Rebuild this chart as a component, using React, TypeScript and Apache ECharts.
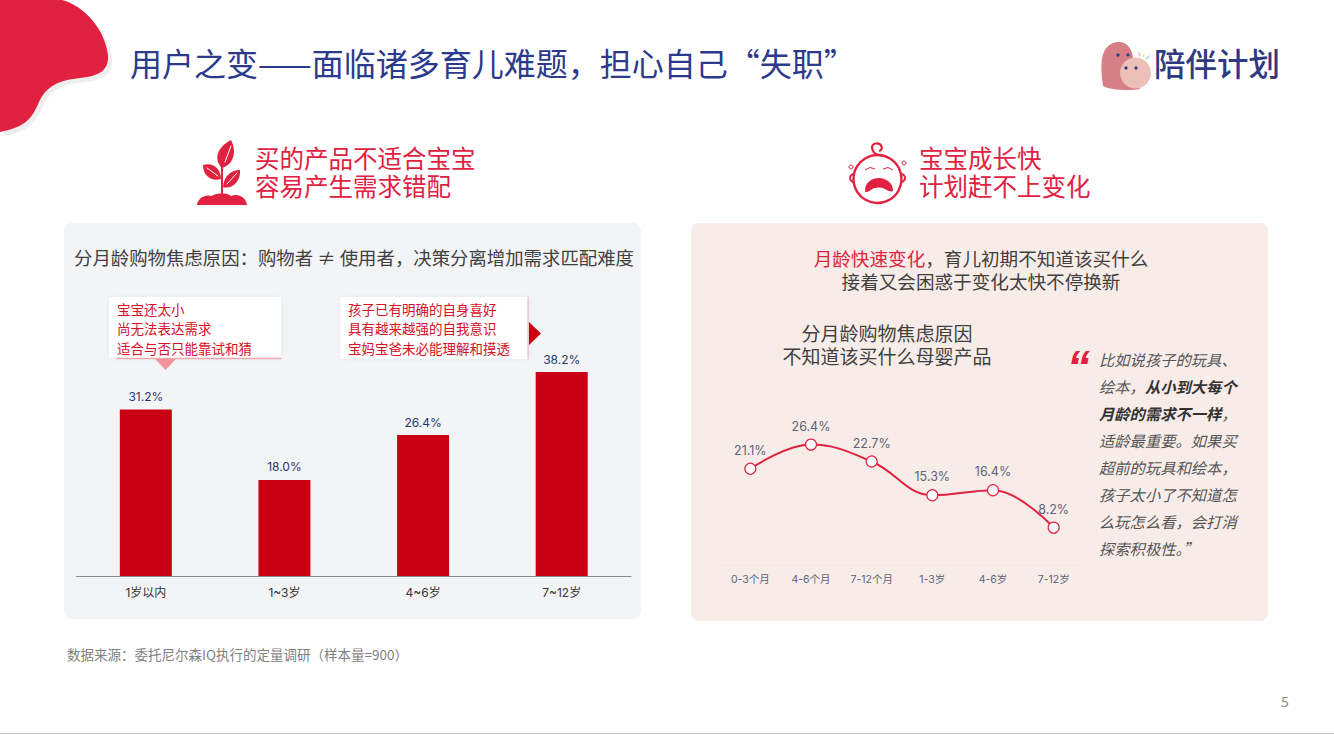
import React, { useEffect, useRef } from "react";
import * as echarts from "echarts";

const barCategories = ["1岁以内", "1~3岁", "4~6岁", "7~12岁"];
const barValues = [31.2, 18.0, 26.4, 38.2];
const lineCategories = ["0-3个月", "4-6个月", "7-12个月", "1-3岁", "4-6岁", "7-12岁"];
const lineValues = [21.1, 26.4, 22.7, 15.3, 16.4, 8.2];

const pageTitle = "用户之变——面临诸多育儿难题，担心自己“失职”";
const brand = "陪伴计划";
const leftHead = ["买的产品不适合宝宝", "容易产生需求错配"];
const rightHead = ["宝宝成长快", "计划赶不上变化"];
const leftPanelTitle = "分月龄购物焦虑原因：购物者 ≠ 使用者，决策分离增加需求匹配难度";
const note1 = ["宝宝还太小", "尚无法表达需求", "适合与否只能靠试和猜"];
const note2 = ["孩子已有明确的自身喜好", "具有越来越强的自我意识", "宝妈宝爸未必能理解和摸透"];
const lineTitle = ["分月龄购物焦虑原因", "不知道该买什么母婴产品"];
const quoteLines = [
  "比如说孩子的玩具、",
  "绘本，{b|从小到大每个}",
  "{b|月龄的需求不一样}，",
  "适龄最重要。如果买",
  "超前的玩具和绘本，",
  "孩子太小了不知道怎",
  "么玩怎么看，会打消",
  "探索积极性。”",
];
const sourceNote = "数据来源：委托尼尔森IQ执行的定量调研（样本量=900）";
const pageNo = "5";

const FONT = '"Noto Sans CJK SC", "Noto Sans", sans-serif';
const NUM_FONT = 'Inter, "Noto Sans CJK SC", sans-serif';
const RED = "#e0213f";
const BAR = "#c90012";

echarts.graphic.registerShape(
  "blob",
  echarts.graphic.extendPath(
    "M0 0 L62 0 C85 6 105 30 108 55 C109 70 100 76 80 78 C60 80 48 85 40 100 C33 114 31 126 0 132 Z",
    {}
  )
);
echarts.graphic.registerShape(
  "plant",
  echarts.graphic.extendPath(
    "M222 168 C214 160 216 148 231 140 C237 152 234 164 222 168 Z M221 179 C212 182 203 176 203 165 C212 162 221 168 221 179 Z M223 187 C224 176 231 170 240 170 C241 180 233 190 223 187 Z M221 165 L223 165 L223 194 L221 194 Z M197 205 C198 198 205 194 212 196 C216 193 226 192 231 196 C239 193 246 198 247 205 Z",
    {}
  )
);
echarts.graphic.registerShape(
  "mouth",
  echarts.graphic.extendPath(
    "M865 191 C865 182 872 178 879 178 C886 178 893 183 893 190 C893 193 888 191 885 189 C880 187 875 187 871 190 C868 192 865 193 865 191 Z",
    {}
  )
);
echarts.graphic.registerShape(
  "heart",
  echarts.graphic.extendPath(
    "M1103 86 C1101 72 1100 58 1105 50 C1111 40 1124 40 1129 47 C1132 51 1133 55 1133 60 L1140 89 C1128 91 1110 90 1103 86 Z",
    {}
  )
);
echarts.graphic.registerShape(
  "curl",
  echarts.graphic.extendPath(
    "M878 155 C871 152 870 144 876 143.5 C882 143 884 150 879 151",
    {}
  )
);

const txt = (x: number, y: number, text: string, fontSize: number, fill: string, extra: any = {}) => ({
  type: "text",
  x,
  y: y - fontSize * 0.1,
  z: 5,
  style: { text, fontSize, fill, fontFamily: FONT, verticalAlign: "middle", align: "left", ...extra },
});

const line = (x1: number, y1: number, x2: number, y2: number, stroke: string, lineWidth = 1) => ({
  type: "line",
  z: 5,
  shape: { x1, y1, x2, y2 },
  style: { stroke, lineWidth, lineCap: "round" },
});

export default function App() {
  const ref = useRef<HTMLDivElement>(null);
  useEffect(() => {
    document.body.style.margin = "0";
    const chart = echarts.init(ref.current!, undefined, { renderer: "svg" });
    const graphics: any[] = [
      { type: "blob", x: 4, y: 4, z: 1, style: { fill: "#eeeeee" } },
      { type: "blob", z: 2, style: { fill: RED } },
      txt(130, 65, pageTitle, 32, "#2b3a8c"),
      // logo
      { type: "heart", z: 2, style: { fill: "#d67f86" } },
      { type: "circle", z: 3, shape: { cx: 1135.5, cy: 73, r: 15.5 }, style: { fill: "#ecc0b8" } },
      { type: "circle", z: 4, shape: { cx: 1118, cy: 55, r: 1.6 }, style: { fill: "#2b3a8c" } },
      { type: "circle", z: 4, shape: { cx: 1128, cy: 55, r: 1.6 }, style: { fill: "#2b3a8c" } },
      { type: "circle", z: 4, shape: { cx: 1126, cy: 68, r: 1.6 }, style: { fill: "#2b3a8c" } },
      { type: "circle", z: 4, shape: { cx: 1136, cy: 68, r: 1.6 }, style: { fill: "#2b3a8c" } },
      line(1139, 53, 1140, 56, "#eeb6c8", 1.5),
      line(1144, 54, 1143, 57, "#f3dfa0", 1.5),
      line(1149, 56, 1146, 59, "#a8d4f0", 1.5),
      txt(1154, 65, brand, 31.5, "#2f3a80", { fontWeight: 500 }),
      // headings and icons
      { type: "plant", z: 2, style: { fill: RED } },
      line(231, 146, 225, 162, "#ffffff", 1),
      line(207, 168, 218, 176, "#ffffff", 1),
      line(237, 173, 227, 184, "#ffffff", 1),
      txt(255, 174, leftHead.join("\n"), 24.5, RED, { lineHeight: 28 }),
      { type: "circle", z: 2, shape: { cx: 877.5, cy: 179, r: 24 }, style: { fill: "none", stroke: RED, lineWidth: 2.4 } },
      { type: "arc", z: 2, shape: { cx: 854, cy: 178, r: 4, startAngle: 1.4, endAngle: 4.9, clockwise: true }, style: { fill: "none", stroke: RED, lineWidth: 2 } },
      { type: "arc", z: 2, shape: { cx: 901, cy: 178, r: 4, startAngle: -1.7, endAngle: 1.7, clockwise: true }, style: { fill: "none", stroke: RED, lineWidth: 2 } },
      { type: "curl", z: 2, style: { fill: "none", stroke: RED, lineWidth: 2.2 } },
      { type: "circle", z: 2, shape: { cx: 851, cy: 167, r: 2 }, style: { fill: "none", stroke: RED, lineWidth: 1 } },
      { type: "circle", z: 2, shape: { cx: 904, cy: 163, r: 2 }, style: { fill: "none", stroke: RED, lineWidth: 1 } },
      { type: "polyline", z: 2, shape: { points: [[865, 170], [870, 167.5], [875, 169]] }, style: { fill: "none", stroke: RED, lineWidth: 1 } },
      { type: "polyline", z: 2, shape: { points: [[883, 169], [888, 167.5], [893, 170]] }, style: { fill: "none", stroke: RED, lineWidth: 1 } },
      { type: "mouth", z: 2, style: { fill: RED } },
      txt(919, 174, rightHead.join("\n"), 24.5, RED, { lineHeight: 28 }),
      // panels
      { type: "rect", z: 0, shape: { x: 64, y: 223, width: 577, height: 396, r: 8 }, style: { fill: "#f3f4f5" } },
      { type: "rect", z: 0, shape: { x: 691, y: 223, width: 577, height: 398, r: 8 }, style: { fill: "#f8ece9" } },
      txt(74, 259, leftPanelTitle, 18.4, "#404040"),
      // note 1
      { type: "rect", z: 1, shape: { x: 109, y: 297, width: 172, height: 61 }, style: { fill: "#ffffff", shadowBlur: 6, shadowColor: "rgba(200,215,235,0.35)" } },
      line(117, 358.5, 281, 358.5, "#f2a6ac", 1.5),
      { type: "polygon", z: 2, shape: { points: [[155, 359], [176, 359], [165.5, 370]] }, style: { fill: "#f0939b" } },
      ...note1.map((t, i) => txt(117, 310 + i * 19.7, t, 13.5, "#d8101f")),
      // note 2
      { type: "rect", z: 1, shape: { x: 340, y: 297, width: 188, height: 62 }, style: { fill: "#ffffff", shadowBlur: 6, shadowColor: "rgba(200,215,235,0.35)" } },
      line(528, 297, 528, 359, "#f2a6ac", 1),
      { type: "polygon", z: 2, shape: { points: [[529, 322], [529, 345], [541, 333.5]] }, style: { fill: BAR } },
      ...note2.map((t, i) => txt(348, 310 + i * 19.7, t, 13.5, "#d8101f")),
      // right panel texts
      {
        type: "text",
        z: 5,
        x: 981,
        y: 257,
        style: {
          text: "{r|月龄快速变化}，育儿初期不知道该买什么",
          fontSize: 18.6,
          fontFamily: FONT,
          fill: "#404040",
          align: "center",
          verticalAlign: "middle",
          rich: { r: { fill: RED, fontSize: 18.6, fontFamily: FONT } },
        },
      },
      txt(981, 282, "接着又会困惑于变化太快不停换新", 18.6, "#404040", { align: "center" }),
      txt(887, 334, lineTitle[0], 19, "#404040", { align: "center" }),
      txt(887, 357, lineTitle[1], 19, "#404040", { align: "center" }),
      txt(1067, 372, "“", 46, RED, { fontStyle: "italic", fontWeight: "bold", fontFamily: '"Liberation Sans", sans-serif' }),
      ...quoteLines.map((t, i) => ({
        type: "text",
        z: 5,
        x: 1099,
        y: 358.5 + i * 27,
        style: {
          text: t,
          fontSize: 15.3,
          fontFamily: FONT,
          fontStyle: "italic",
          fill: "#555555",
          verticalAlign: "middle",
          align: "left",
          rich: {
            b: { fontSize: 15.3, fontFamily: FONT, fontStyle: "italic", fontWeight: "bold", fill: "#333333" },
          },
        },
      })),
      txt(67, 655, sourceNote, 13.5, "#7f7f7f"),
      txt(1281, 702, pageNo, 14, "#8c8c8c"),
      { type: "rect", z: 1, shape: { x: 0, y: 733, width: 1334, height: 1 }, style: { fill: "#c8c8c8" } },
    ];

    chart.setOption({
      animation: false,
      backgroundColor: "#ffffff",
      graphic: graphics,
      grid: [
        { left: 76.5, width: 554.5, top: 362.4, height: 213.6 },
        { left: 720, width: 364, top: 382.6, height: 182.4 },
      ],
      xAxis: [
        {
          type: "category",
          gridIndex: 0,
          data: barCategories,
          axisTick: { show: false },
          axisLine: { lineStyle: { color: "#8a8a8a", width: 1 } },
          axisLabel: { color: "#333333", fontSize: 12, fontFamily: NUM_FONT, margin: 10 },
        },
        {
          type: "category",
          gridIndex: 1,
          data: lineCategories,
          axisTick: { show: false },
          axisLine: { lineStyle: { color: "#f0e8e8", width: 1 } },
          axisLabel: { color: "#5b6478", fontSize: 10.5, fontFamily: NUM_FONT, margin: 9 },
        },
      ],
      yAxis: [
        { type: "value", gridIndex: 0, min: 0, max: 40, show: false },
        { type: "value", gridIndex: 1, min: 0, max: 40, show: false },
      ],
      series: [
        {
          type: "bar",
          xAxisIndex: 0,
          yAxisIndex: 0,
          data: barValues,
          barWidth: 52,
          itemStyle: { color: BAR },
          label: {
            show: true,
            position: "top",
            distance: 7,
            color: "#1f3a6e",
            fontSize: 12,
            fontFamily: NUM_FONT,
            formatter: (p: any) => `${Number(p.value).toFixed(1)}%`,
          },
        },
        {
          type: "line",
          xAxisIndex: 1,
          yAxisIndex: 1,
          data: lineValues,
          smooth: 0.4,
          symbol: "circle",
          symbolSize: 11,
          lineStyle: { color: RED, width: 2 },
          itemStyle: { color: "#ffffff", borderColor: RED, borderWidth: 1.2 },
          label: {
            show: true,
            position: "top",
            distance: 6,
            color: "#5b6478",
            fontSize: 12.5,
            fontFamily: NUM_FONT,
            formatter: (p: any) => `${Number(p.value).toFixed(1)}%`,
          },
        },
      ],
    });
    return () => chart.dispose();
  }, []);
  return <div ref={ref} style={{ position: "absolute", left: 0, top: 0, width: 1334, height: 734 }} />;
}
